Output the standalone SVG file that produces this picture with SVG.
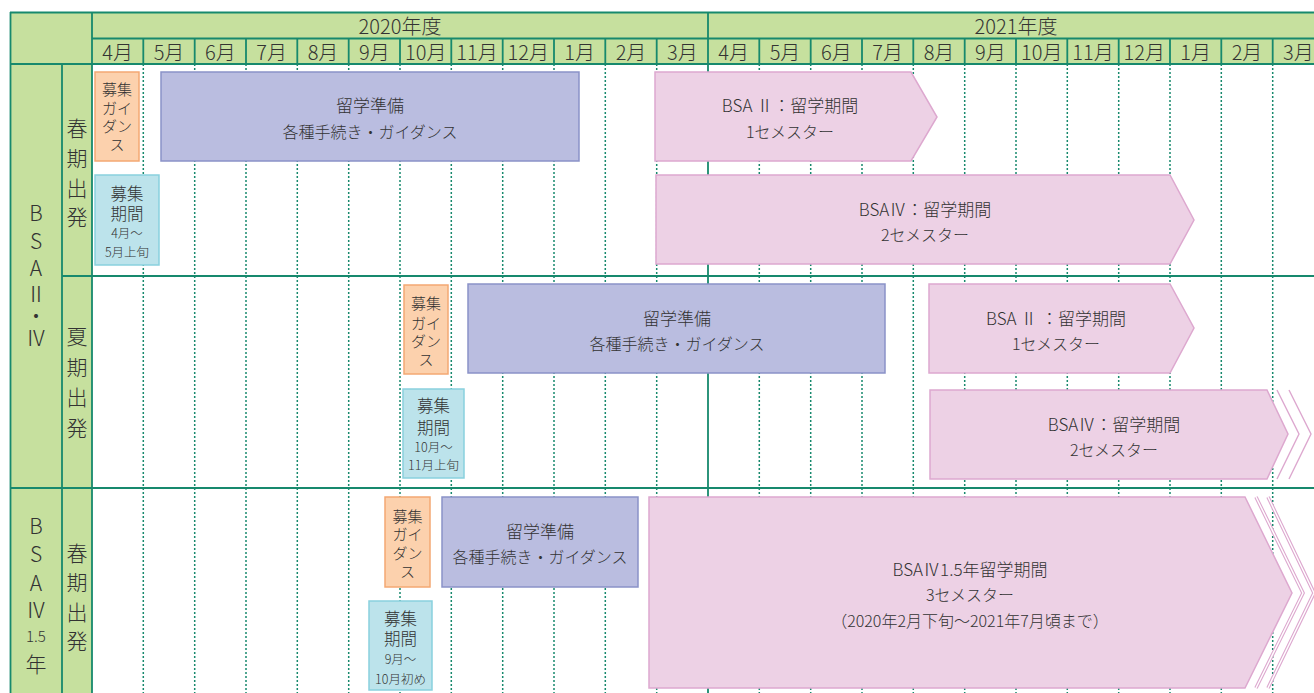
<svg xmlns="http://www.w3.org/2000/svg" width="1314" height="693" viewBox="0 0 1314 693">
<style>
text{font-family:"Noto Sans CJK JP","Noto Sans",sans-serif;fill:#333;text-anchor:middle;dominant-baseline:central;font-weight:300}
.hd{fill:#c6e09e}
.ln{stroke:#17896d;stroke-width:1.8;fill:none}
.dot{stroke:#17896d;stroke-width:1.5;stroke-dasharray:2 2;fill:none}
.or{fill:#fcd1ad;stroke:#f4a873;stroke-width:1.5}
.cy{fill:#bce3eb;stroke:#89d1de;stroke-width:1.5}
.pu{fill:#babde0;stroke:#8a92c8;stroke-width:1.5}
.pk{fill:#edd1e5;stroke:#dda8cf;stroke-width:1.5}
.chv{fill:none;stroke:#dda8cf;stroke-width:1.4}
.chv2{fill:none;stroke:#dda8cf;stroke-width:3.6}
.chvw{fill:none;stroke:#fff;stroke-width:1.4}
.m{font-size:20px}
.y{font-size:20px}
.lb{font-size:21px}
.lbs{font-size:15px}
.t1{font-size:17px}
.t2{font-size:16px}
.s1{font-size:15px}
.c1{font-size:16.5px}
.c2{font-size:12.5px}
</style>
<rect width="1314" height="693" fill="#fff"/>
<g id="grid">
<rect class="hd" x="10" y="12" width="1304" height="52"/>
<rect class="hd" x="10" y="64" width="82" height="629"/>
<g id="dotted">
<path class="dot" d="M143.3 64V693M194.7 64V693M246 64V693M297.3 64V693M348.7 64V693M400 64V693M451.3 64V693M502.7 64V693M554 64V693M605.3 64V693M656.7 64V693M759.3 64V693M810.7 64V693M862 64V693M913.3 64V693M964.7 64V693M1016 64V693M1067.3 64V693M1118.7 64V693M1170 64V693M1221.3 64V693M1272.7 64V693"/>
</g>
<path class="ln" d="M10 12.5H1314M92 38.5H1314M10 64H1314M62 276H1314M10 488H1314M10.5 12V693M92 12V693M62 64V693M708 12V693"/>
<path class="ln" d="M143.3 38V64M194.7 38V64M246 38V64M297.3 38V64M348.7 38V64M400 38V64M451.3 38V64M502.7 38V64M554 38V64M605.3 38V64M656.7 38V64M759.3 38V64M810.7 38V64M862 38V64M913.3 38V64M964.7 38V64M1016 38V64M1067.3 38V64M1118.7 38V64M1170 38V64M1221.3 38V64M1272.7 38V64"/>
</g>
<g id="header">
<text class="y" x="400" y="25">2020年度</text>
<text class="y" x="1016" y="25">2021年度</text>
<text class="m" x="117.7" y="51">4月</text>
<text class="m" x="169" y="51">5月</text>
<text class="m" x="220.3" y="51">6月</text>
<text class="m" x="271.7" y="51">7月</text>
<text class="m" x="323" y="51">8月</text>
<text class="m" x="374.3" y="51">9月</text>
<text class="m" x="425.7" y="51">10月</text>
<text class="m" x="477" y="51">11月</text>
<text class="m" x="528.3" y="51">12月</text>
<text class="m" x="579.7" y="51">1月</text>
<text class="m" x="631" y="51">2月</text>
<text class="m" x="682.3" y="51">3月</text>
<text class="m" x="733.7" y="51">4月</text>
<text class="m" x="785" y="51">5月</text>
<text class="m" x="836.3" y="51">6月</text>
<text class="m" x="887.7" y="51">7月</text>
<text class="m" x="939" y="51">8月</text>
<text class="m" x="990.3" y="51">9月</text>
<text class="m" x="1041.7" y="51">10月</text>
<text class="m" x="1093" y="51">11月</text>
<text class="m" x="1144.3" y="51">12月</text>
<text class="m" x="1195.7" y="51">1月</text>
<text class="m" x="1247" y="51">2月</text>
<text class="m" x="1298.3" y="51">3月</text>
</g>
<g id="labels">
<text class="lb"><tspan x="36" y="212">B</tspan><tspan x="36" y="240">S</tspan><tspan x="36" y="267">A</tspan><tspan x="36" y="293">Ⅱ</tspan><tspan x="36" y="315">・</tspan><tspan x="36" y="337">Ⅳ</tspan></text>
<text class="lb"><tspan x="77" y="127">春</tspan><tspan x="77" y="157">期</tspan><tspan x="77" y="187">出</tspan><tspan x="77" y="216">発</tspan></text>
<text class="lb"><tspan x="77" y="335">夏</tspan><tspan x="77" y="366">期</tspan><tspan x="77" y="396">出</tspan><tspan x="77" y="427">発</tspan></text>
<text class="lb"><tspan x="36" y="525">B</tspan><tspan x="36" y="553">S</tspan><tspan x="36" y="582">A</tspan><tspan x="36" y="609">Ⅳ</tspan><tspan class="lbs" x="36" y="635">1.5</tspan><tspan x="36" y="663">年</tspan></text>
<text class="lb"><tspan x="77" y="552">春</tspan><tspan x="77" y="581">期</tspan><tspan x="77" y="611">出</tspan><tspan x="77" y="640">発</tspan></text>
</g>
<g id="r1-guide">
<rect class="or" x="95" y="72" width="44" height="89"/>
<text class="s1"><tspan x="117" y="88">募集</tspan><tspan x="117" y="107">ガイ</tspan><tspan x="117" y="125">ダン</tspan><tspan x="117" y="143">ス</tspan></text>
</g>
<g id="r1-period">
<rect class="cy" x="95" y="175" width="64" height="90"/>
<text class="c1"><tspan x="127" y="193">募集</tspan><tspan x="127" y="213">期間</tspan><tspan class="c2" x="127" y="232">4月〜</tspan><tspan class="c2" x="127" y="251">5月上旬</tspan></text>
</g>
<g id="r1-prep">
<rect class="pu" x="161" y="72" width="418" height="89"/>
<text class="t1"><tspan x="370" y="104">留学準備</tspan><tspan class="t2" x="370" y="131">各種手続き・ガイダンス</tspan></text>
</g>
<g id="r1-bsa2">
<polygon class="pk" points="655,72 911,72 937,117 911,161 655,161"/>
<text class="t1"><tspan x="790" y="104">BSA Ⅱ：留学期間</tspan><tspan class="t2" x="790" y="131">1セメスター</tspan></text>
</g>
<g id="r1-bsa4">
<polygon class="pk" points="656,175 1170,175 1194,220 1170,264 656,264"/>
<text class="t1"><tspan x="925" y="208">BSAⅣ：留学期間</tspan><tspan class="t2" x="925" y="234">2セメスター</tspan></text>
</g>
<g id="r2-guide">
<rect class="or" x="404" y="285" width="44" height="89"/>
<text class="s1"><tspan x="426" y="302">募集</tspan><tspan x="426" y="322">ガイ</tspan><tspan x="426" y="340">ダン</tspan><tspan x="426" y="358">ス</tspan></text>
</g>
<g id="r2-period">
<rect class="cy" x="403" y="389" width="61" height="89"/>
<text class="c1"><tspan x="433.5" y="405">募集</tspan><tspan x="433.5" y="427">期間</tspan><tspan class="c2" x="433.5" y="446">10月〜</tspan><tspan class="c2" x="433.5" y="464">11月上旬</tspan></text>
</g>
<g id="r2-prep">
<rect class="pu" x="468" y="284" width="417" height="89"/>
<text class="t1"><tspan x="677" y="317">留学準備</tspan><tspan class="t2" x="677" y="343">各種手続き・ガイダンス</tspan></text>
</g>
<g id="r2-bsa2">
<polygon class="pk" points="929,284 1170,284 1194,328 1170,373 929,373"/>
<text class="t1"><tspan x="1056" y="317">BSA Ⅱ ：留学期間</tspan><tspan class="t2" x="1056" y="343">1セメスター</tspan></text>
</g>
<g id="r2-bsa4">
<polygon class="pk" points="930,390 1267,390 1288,434 1267,479 930,479"/>
<polyline class="chv" points="1277,390 1299,434 1277,479"/>
<polyline class="chv" points="1289,390 1311,434 1289,479"/>
<text class="t1"><tspan x="1114" y="423">BSAⅣ：留学期間</tspan><tspan class="t2" x="1114" y="449">2セメスター</tspan></text>
</g>
<g id="r3-guide">
<rect class="or" x="385" y="497" width="45" height="90"/>
<text class="s1"><tspan x="407.5" y="515">募集</tspan><tspan x="407.5" y="533">ガイ</tspan><tspan x="407.5" y="552">ダン</tspan><tspan x="407.5" y="570">ス</tspan></text>
</g>
<g id="r3-period">
<rect class="cy" x="369" y="601" width="63" height="89"/>
<text class="c1"><tspan x="400.5" y="618">募集</tspan><tspan x="400.5" y="638">期間</tspan><tspan class="c2" x="400.5" y="658">9月〜</tspan><tspan class="c2" x="400.5" y="678">10月初め</tspan></text>
</g>
<g id="r3-prep">
<rect class="pu" x="442" y="497" width="196" height="90"/>
<text class="t1"><tspan x="540" y="530">留学準備</tspan><tspan class="t2" x="540" y="556">各種手続き・ガイダンス</tspan></text>
</g>
<g id="r3-bsa4">
<polygon class="pk" points="649,497 1245,497 1292,593 1245,688 649,688"/>
<polyline class="chv2" points="1256,497 1303,593 1256,688"/>
<polyline class="chvw" points="1256,497 1303,593 1256,688"/>
<polyline class="chv2" points="1268,497 1314,593 1268,688"/>
<polyline class="chvw" points="1268,497 1314,593 1268,688"/>
<text class="t1"><tspan x="970" y="568">BSAⅣ1.5年留学期間</tspan><tspan class="t2" x="970" y="594">3セメスター</tspan><tspan class="t2" x="970" y="620">（2020年2月下旬〜2021年7月頃まで）</tspan></text>
</g>
</svg>
